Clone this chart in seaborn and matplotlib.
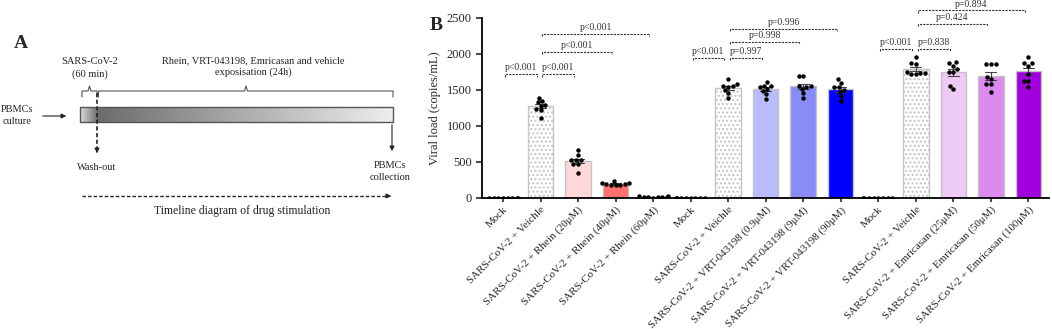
import numpy as np
import pandas as pd
import matplotlib
matplotlib.use("Agg")
import matplotlib.pyplot as plt
import seaborn as sns

# --- data ---
labels = ["Mock", "SARS-CoV-2 + Veichle", "SARS-CoV-2 + Rhein (20μM)",
          "SARS-CoV-2 + Rhein (40μM)", "SARS-CoV-2 + Rhein (60μM)",
          "Mock", "SARS-CoV-2 + Veichle", "SARS-CoV-2 + VRT-043198 (0.9μM)",
          "SARS-CoV-2 + VRT-043198 (9μM)", "SARS-CoV-2 + VRT-043198 (90μM)",
          "Mock", "SARS-CoV-2 + Veichle", "SARS-CoV-2 + Emricasan (25μM)",
          "SARS-CoV-2 + Emricasan (50μM)", "SARS-CoV-2 + Emricasan (100μM)"]

mock = [0, 0, 0, 0, 0, 0, 0, 0]
veh_rhein = [1393, 1351, 1333, 1287, 1282, 1236, 1218, 1106]
rhein_20 = [662, 593, 528, 523, 523, 468, 468, 350]
rhein_40 = [235, 212, 196, 182, 175, 180, 192, 210]
rhein_60 = [25, 15, 8, 5, 10, 12, 20, 30]
veh_vrt = [1653, 1579, 1556, 1556, 1546, 1500, 1454, 1385]
vrt_09 = [1606, 1560, 1560, 1537, 1491, 1514, 1440, 1370]
vrt_9 = [1694, 1694, 1560, 1560, 1537, 1514, 1454, 1385]
vrt_90 = [1653, 1600, 1537, 1537, 1500, 1477, 1417, 1352]
veh_em = [1954, 1879, 1861, 1745, 1731, 1731, 1722, 1717]
em_25 = [1840, 1870, 1893, 1790, 1750, 1750, 1560, 1520]
em_50 = [1856, 1856, 1856, 1653, 1676, 1583, 1583, 1476]
em_100 = [1963, 1870, 1879, 1838, 1717, 1629, 1629, 1546]

series = [mock, veh_rhein, rhein_20, rhein_40, rhein_60,
          mock, veh_vrt, vrt_09, vrt_9, vrt_90,
          mock, veh_em, em_25, em_50, em_100]

colors = ["#ffffff", "#ffffff", "#ffd9d9", "#ff7070", "#c83232",
          "#ffffff", "#ffffff", "#b9bcfb", "#8a8cf6", "#0000ff",
          "#ffffff", "#ffffff", "#eecbf6", "#dc8af0", "#a100de"]
hatched = [False, True, False, False, False,
           False, True, False, False, False,
           False, True, False, False, False]

# comparisons: (first bar, second bar, label)
pairs = [(0, 1, "p<0.001"), (1, 2, "p<0.001"), (1, 3, "p<0.001"), (1, 4, "p<0.001"),
         (5, 6, "p<0.001"), (6, 7, "p=0.997"), (6, 8, "p=0.998"), (6, 9, "p=0.996"),
         (10, 11, "p<0.001"), (11, 12, "p=0.838"), (11, 13, "p=0.424"), (11, 14, "p=0.894")]
pair_levels = [1720, 1720, 2030, 2280, 1945, 1945, 2170, 2350, 2070, 2070, 2420, 2605]

keys = [f"g{i}" for i in range(len(labels))]
df = pd.DataFrame({
    "group": np.repeat(keys, [len(s) for s in series]),
    "load": np.concatenate(series),
})

sns.set_style("white")
plt.rcParams["font.family"] = ["Liberation Serif", "DejaVu Serif"]
plt.rcParams["hatch.color"] = "#b0b0b0"
plt.rcParams["hatch.linewidth"] = 1.0

fig = plt.figure(figsize=(10.52, 3.29), dpi=100)

# ---------------- panel A: timeline diagram ----------------
axa = fig.add_axes([0, 0, 440 / 1052, 1])
axa.set_xlim(0, 440)
axa.set_ylim(329, 0)
axa.axis("off")

grad = np.concatenate([np.linspace(0.85, 0.45, 17), np.linspace(0.42, 0.93, 296)])
axa.imshow(grad[None, :], cmap="gray", vmin=0, vmax=1, aspect="auto",
           extent=(80, 393, 122, 107), zorder=1)
axa.plot([80, 393, 393, 80, 80], [107, 107, 122, 122, 107], color="#555555", lw=1.0, zorder=2)

def brace(x0, x1, xm):
    axa.plot([x0, x0, xm - 1.5, xm, xm + 1.5, x1, x1],
             [97, 91, 91, 86, 91, 91, 97], color="#555555", lw=0.8)

brace(82, 97, 89.5)
brace(98.5, 393, 246)

axa.plot([97, 97], [93, 150], color="#222222", lw=1.2, ls=(0, (2.5, 1.5)))
axa.annotate("", xy=(97, 156), xytext=(97, 148),
             arrowprops=dict(arrowstyle="-|>", color="#222222", lw=0.8, mutation_scale=7))
axa.annotate("", xy=(392, 154), xytext=(392, 122),
             arrowprops=dict(arrowstyle="-|>", color="#222222", lw=0.8, mutation_scale=7))
axa.annotate("", xy=(69, 116), xytext=(40, 116),
             arrowprops=dict(arrowstyle="-|>", color="#222222", lw=0.8, mutation_scale=7))
axa.plot([82, 388], [196, 196], color="#222222", lw=1.0, ls=(0, (2.5, 1.5)))
axa.annotate("", xy=(394, 196), xytext=(386, 196),
             arrowprops=dict(arrowstyle="-|>", color="#222222", lw=0.8, mutation_scale=7))

tkw = dict(ha="center", va="center", fontsize=7.5, color="#222222")
axa.text(21, 43, "A", ha="center", va="center", fontsize=14, fontweight="bold")
axa.text(90, 62, "SARS-CoV-2", **tkw)
axa.text(90, 74, "(60 min)", **tkw)
axa.text(253, 61, "Rhein, VRT-043198, Emricasan and vehicle", **tkw)
axa.text(253, 72, "exposisation (24h)", **tkw)
axa.text(17, 110, "PBMCs", **tkw)
axa.text(17, 121, "culture", **tkw)
axa.text(97, 168, "Wash-out", **tkw)
axa.text(390, 166, "PBMCs", **tkw)
axa.text(390, 177, "collection", **tkw)
axa.text(242, 211, "Timeline diagram of drug stimulation", ha="center", va="center",
         fontsize=8.5, color="#222222")

# ---------------- panel B: viral load bars ----------------
ax = fig.add_axes([482 / 1052, 1 - 198 / 329, (1049 - 482) / 1052, 180 / 329])

sns.barplot(data=df, x="group", y="load", order=keys, hue="group", hue_order=keys,
            palette=colors, saturation=1, legend=False, errorbar="se", capsize=0.3,
            width=0.68, edgecolor="#c4c4c4", linewidth=1.0,
            err_kws={"color": "#444444", "linewidth": 0.8}, ax=ax)
for patch, h in zip(ax.patches, hatched):
    if h:
        patch.set_hatch("....")

sns.swarmplot(data=df, x="group", y="load", order=keys, color="black", size=3.2, ax=ax)

for (i, j, lab), lvl in zip(pairs, pair_levels):
    x0, x1 = i + 0.05, j - 0.1
    ax.plot([x0, x0, x1, x1], [lvl - 35, lvl, lvl, lvl - 35], color="#333333",
            lw=0.8, ls=(0, (2, 1)), clip_on=False)
    ax.text((x0 + x1) / 2, lvl + 25, lab, ha="center", va="bottom", fontsize=7,
            color="#333333", clip_on=False)

ax.set_xlim(-0.56, 14.55)
ax.set_ylim(0, 2500)
ax.set_yticks([0, 500, 1000, 1500, 2000, 2500])
ax.set_xticks(range(len(labels)))
ax.set_xticklabels(labels, rotation=45, ha="right", rotation_mode="anchor", fontsize=7.9)
ax.tick_params(axis="y", labelsize=9, length=4, width=1.2, direction="out", left=True)
ax.tick_params(axis="x", length=3, width=1.2, direction="out", bottom=True, pad=2)
ax.set_xlabel("")
ax.set_ylabel("Viral load (copies/mL)", fontsize=9)
sns.despine(ax=ax)
for s in ["left", "bottom"]:
    ax.spines[s].set_linewidth(1.3)
    ax.spines[s].set_color("black")

fig.text(436 / 1052, 1 - 25 / 329, "B", ha="center", va="center", fontsize=14, fontweight="bold")

fig.savefig("out.png", dpi=100)
